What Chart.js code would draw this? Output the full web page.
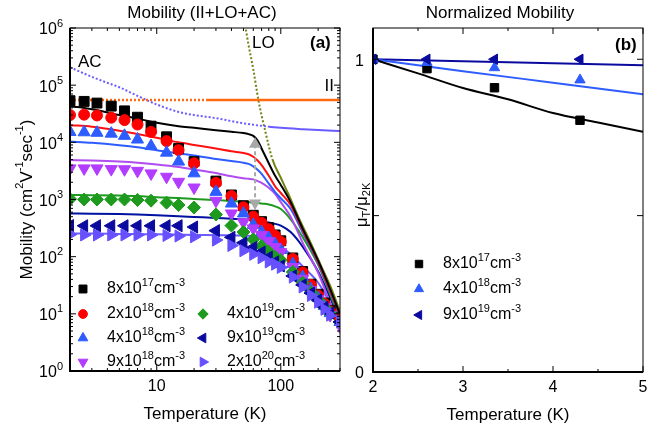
<!DOCTYPE html>
<html>
<head>
<meta charset="utf-8">
<title>Mobility</title>
<script src="https://cdn.jsdelivr.net/npm/chart.js@4.4.0/dist/chart.umd.min.js"></script>
<style>
  body { margin: 0; background: #fff; }
  #wrap { position: relative; width: 664px; height: 428px; }
  #left { position: absolute; left: 0; top: 0; }
  #right { position: absolute; left: 348px; top: 0; }
</style>
</head>
<body>
<div id="wrap">
  <canvas id="left" width="348" height="428"></canvas>
  <canvas id="right" width="316" height="428"></canvas>
</div>
<script>
const FONT = '"Liberation Sans", Arial, Helvetica, sans-serif';

// Measured temperatures (K)
const tempsMeas = [2, 2.6, 3.3, 4.3, 5.5, 7, 9, 12, 15, 20, 30, 40, 50, 60, 70, 80, 90, 100, 125, 150, 175, 200, 225, 250, 300];

// Measured mobility (cm2/Vs) for each doping
const mu8e17 = [53500, 52000, 48600, 43000, 35500, 27500, 19200, 12500, 7800, 4600, 2100, 1200, 780, 530, 410, 320, 240, 190, 95, 55, 33, 22, 15.5, 11.5, 8.5];
const mu2e18 = [30000, 30500, 29500, 27000, 24500, 20500, 15200, 10500, 7300, 4300, 1950, 1150, 730, 500, 390, 303, 230, 182, 91, 53, 32, 21, 15, 11, 8.1];
const mu4e18 = [15200, 15000, 14700, 14200, 13000, 11200, 8600, 6600, 4600, 2870, 1360, 850, 570, 360, 270, 212, 166, 131, 74, 44, 27, 19, 13.7, 10.3, 7.2];
const mu9e18 = [3500, 3500, 3500, 3400, 3380, 3170, 2860, 2500, 2040, 1620, 950, 570, 400, 312, 240, 187, 148, 120, 66, 41, 26, 18, 13, 9.5, 6.4];
const mu4e19 = [1016, 1000, 1000, 1000, 1000, 980, 955, 880, 800, 725, 545, 350, 270, 200, 153, 122, 99, 87, 54, 35, 24, 17.5, 13, 10, 7.2];
const mu9e19 = [350, 347, 347, 347, 347, 347, 347, 347, 347, 330, 285, 218, 175, 145, 120, 98, 81, 69, 46, 32, 23, 17.5, 13, 10.3, 7.2];
const mu2e20 = [245, 240, 240, 240, 240, 240, 240, 235, 230, 223, 195, 157, 127, 110, 96, 81, 74, 65, 44, 29.5, 21, 16, 12, 9.5, 7.2];

// Calculated (II+LO+AC) curves
const curveT = [2, 3, 5, 7, 10, 15, 20, 30, 40, 50, 55, 60, 65, 70, 80, 90, 100, 120, 150, 200, 250, 300];
const fit8e17 = [43000, 38000, 30000, 26000, 22000, 19200, 18000, 16300, 15300, 14500, 13900, 13000, 10800, 7800, 4300, 2600, 1800, 900, 310, 85, 27, 9.8];
const fit2e18 = [20000, 18800, 16000, 14000, 12000, 10000, 9000, 7800, 7000, 6500, 6200, 5600, 4800, 4000, 2600, 1700, 1300, 800, 290, 80, 25, 9.3];
const fit4e18 = [10300, 9800, 8900, 8200, 7300, 6400, 5900, 5100, 4700, 4400, 4200, 3800, 3300, 2800, 1900, 1350, 1050, 680, 265, 76, 24, 8.8];
const fit9e18 = [4900, 4800, 4600, 4400, 4100, 3700, 3350, 2900, 2550, 2350, 2300, 2250, 2100, 1950, 1600, 1250, 900, 500, 175, 52, 15, 4.6];
const fit4e19 = [1200, 1190, 1170, 1150, 1100, 1060, 1020, 980, 940, 910, 900, 880, 870, 850, 820, 760, 680, 450, 220, 72, 22, 8];
const fit9e19 = [570, 565, 555, 545, 530, 510, 495, 475, 460, 450, 440, 430, 420, 410, 395, 375, 350, 270, 150, 55, 19, 7.5];
const fit2e20 = [255, 253, 250, 248, 247, 243, 240, 238, 236, 235, 233, 228, 220, 210, 195, 175, 150, 110, 68, 35, 15, 6];

// Single-mechanism limits
const iiT = [2, 10, 25, 60, 300];
const iiMu = [55000, 55000, 55000, 55000, 55000];
const acT = [2, 3, 4, 5, 7, 10, 15, 20, 30, 50, 80, 100, 150, 200, 300];
const acMu = [205000, 140000, 110000, 92000, 65000, 46000, 34000, 30000, 26500, 21500, 18800, 18000, 17000, 16400, 15800];
const loT = [50, 52, 55, 60, 66, 75, 86, 100, 114, 145, 175, 210, 255, 300];
const loMu = [1.5e6, 1e6, 5e5, 1.9e5, 55000, 15500, 4900, 2400, 1300, 400, 170, 71, 28, 11];
const arrowT = [62, 62];
const arrowMu = [9300, 870];

// Right panel: normalized mobility
const normT = [2, 2.6, 3.35, 4.3];
const norm8e17 = [1, 0.97, 0.909, 0.805];
const norm4e18 = [1, 0.99, 0.973, 0.934];
const norm9e19 = [1, 1, 1, 1];
const normLineT8e17 = [2, 2.5, 3, 3.5, 4, 4.5, 5];
const normLine8e17 = [1, 0.955, 0.908, 0.872, 0.828, 0.798, 0.768];
const normLineT4e18 = [2, 3, 4, 5];
const normLine4e18 = [1, 0.962, 0.925, 0.888];
const normLineT9e19 = [2, 5];
const normLine9e19 = [1, 0.981];

// Tick labels
const leftXLabels = [10, 100];
const leftYExps = [0, 1, 2, 3, 4, 5, 6];
const rightXLabels = [2, 3, 4, 5];
const rightYLabels = [0, 1];

const dopings = [['8', '17'], ['2', '18'], ['4', '18'], ['9', '18'], ['4', '19'], ['9', '19'], ['2', '20']];

const pts = (xs, ys) => xs.map((x, i) => ({ x: x, y: ys[i] }));

// text with super/subscripts: parts = [[text, mode]] mode 1 sup, -1 sub
function richText(ctx, parts, x, y, size, align, weight) {
  const small = Math.round(size * 0.66);
  const w0 = weight || 'normal';
  let w = 0;
  parts.forEach(([t, m]) => {
    ctx.font = w0 + ' ' + (m ? small : size) + 'px ' + FONT;
    w += ctx.measureText(t).width;
  });
  let cx = align === 'center' ? x - w / 2 : align === 'right' ? x - w : x;
  ctx.textAlign = 'left';
  ctx.textBaseline = 'middle';
  parts.forEach(([t, m]) => {
    ctx.font = w0 + ' ' + (m ? small : size) + 'px ' + FONT;
    const dy = m === 1 ? -size * 0.4 : m === -1 ? size * 0.3 : 0;
    ctx.fillText(t, cx, y + dy);
    cx += ctx.measureText(t).width;
  });
}

function dopingParts(d) {
  return [[d[0] + 'x10', 0], [d[1], 1], ['cm', 0], ['-3', 1]];
}

function marker(ctx, style, color, r, rot, x, y) {
  ctx.fillStyle = color;
  ctx.strokeStyle = color;
  ctx.lineWidth = 1;
  Chart.helpers.drawPoint(ctx, { pointStyle: style, rotation: rot, radius: r, borderWidth: 1 }, x, y);
}

function line(ctx, x1, y1, x2, y2) {
  ctx.beginPath();
  ctx.moveTo(x1, y1);
  ctx.lineTo(x2, y2);
  ctx.stroke();
}

// draws frame, inward ticks, labels and annotation text
function framePlugin(opts) {
  return {
    id: 'frame',
    afterDraw(chart) {
      const ctx = chart.ctx, a = chart.chartArea;
      const sx = chart.scales.x, sy = chart.scales.y;
      ctx.save();
      ctx.strokeStyle = '#000';
      ctx.fillStyle = '#000';
      ctx.lineWidth = 1;
      ctx.strokeRect(a.left, a.top, a.right - a.left, a.bottom - a.top);
      ctx.lineWidth = 2;
      ctx.beginPath();
      ctx.moveTo(a.left, a.top);
      ctx.lineTo(a.left, a.bottom);
      ctx.lineTo(a.right, a.bottom);
      ctx.stroke();
      ctx.lineWidth = 1;
      opts.xTicks.forEach(t => {
        const p = sx.getPixelForValue(t.v), len = t.major ? 6 : 3;
        line(ctx, p, a.bottom, p, a.bottom - len);
        line(ctx, p, a.top, p, a.top + len);
      });
      opts.yTicks.forEach(t => {
        const p = sy.getPixelForValue(t.v), len = t.major ? 6 : 3;
        line(ctx, a.left, p, a.left + len, p);
        line(ctx, a.right, p, a.right - len, p);
      });
      opts.xLabels.forEach(v => {
        richText(ctx, [[String(v), 0]], sx.getPixelForValue(v), a.bottom + 16, 16, 'center');
      });
      opts.yLabels.forEach(l => {
        richText(ctx, l.parts, a.left - opts.yLabelGap, sy.getPixelForValue(l.v) + 2, 16, 'right');
      });
      opts.texts(ctx, a);
      ctx.restore();
    }
  };
}

function markerSet(label, data, color, style, r, rot, order) {
  return {
    label: label, data: pts(tempsMeas, data), showLine: false,
    pointStyle: style, pointRotation: rot, pointRadius: r,
    pointBackgroundColor: color, pointBorderColor: color, pointBorderWidth: 1,
    order: order
  };
}

// lines sit under the markers (higher order is drawn first)
function curveSet(xs, ys, color, width, dashUntil) {
  const ds = {
    data: pts(xs, ys), showLine: true, pointRadius: 0,
    borderColor: color, borderWidth: width, cubicInterpolationMode: 'monotone',
    order: 20
  };
  if (dashUntil) {
    ds.segment = { borderDash: c => (c.p1.parsed.x <= dashUntil ? [2, 2] : undefined) };
  }
  return ds;
}

// marker styles per doping: color, style, radius, rotation
const styles = [
  ['#000000', 'rect', 7, 0],
  ['#ff0000', 'circle', 5.5, 0],
  ['#2d5cff', 'triangle', 7, 0],
  ['#b23cff', 'triangle', 7, 180],
  ['#1e9a1e', 'rectRot', 6.5, 0],
  ['#0a0a9e', 'triangle', 7, -90],
  ['#6650ff', 'triangle', 7, 90]
];
const measured = [mu8e17, mu2e18, mu4e18, mu9e18, mu4e19, mu9e19, mu2e20];
const fits = [fit8e17, fit2e18, fit4e18, fit9e18, fit4e19, fit9e19, fit2e20];
const fitColors = ['#000000', '#ff1010', '#2d5cff', '#b04cf0', '#1e9a1e', '#0010a0', '#6a5cff'];

// ---------------- left panel ----------------
const leftSets = [];
fits.forEach((f, i) => leftSets.push(curveSet(curveT, f, fitColors[i], 2)));
leftSets.push(curveSet(iiT, iiMu, '#ff6a10', 2.5, 25));
leftSets.push(curveSet(acT, acMu, '#6a5cff', 2, 80));
leftSets.push(curveSet(loT, loMu, '#6e8412', 2, 86));
leftSets.push({
  data: pts(arrowT, arrowMu), showLine: true, borderColor: '#a8a8a8', borderWidth: 2,
  borderDash: [4, 3], pointStyle: 'triangle', pointRotation: [0, 180], pointRadius: 5,
  pointBackgroundColor: '#a8a8a8', pointBorderColor: '#a8a8a8', order: 15
});
measured.forEach((m, i) => {
  const s = styles[i];
  leftSets.push(markerSet(dopings[i].join('e'), m, s[0], s[1], s[2], s[3], 7 - i + 1));
});

const leftXTicks = [];
[1, 10, 100].forEach(d => {
  for (let s = 1; s <= 9; s++) {
    const v = s * d;
    if (v >= 2 && v <= 300) leftXTicks.push({ v: v, major: s === 1 });
  }
});
const leftYTicks = [];
for (let e = 0; e <= 6; e++) {
  for (let s = 1; s <= 9; s++) {
    const v = s * Math.pow(10, e);
    if (v <= 1e6) leftYTicks.push({ v: v, major: s === 1 });
  }
}

new Chart(document.getElementById('left'), {
  type: 'scatter',
  data: { datasets: leftSets },
  options: {
    responsive: false,
    animation: false,
    layout: { padding: { left: 70, right: 8, top: 28, bottom: 57 } },
    plugins: { legend: { display: false }, tooltip: { enabled: false } },
    scales: {
      x: { type: 'logarithmic', min: 2, max: 300, display: false },
      y: { type: 'logarithmic', min: 1, max: 1e6, display: false }
    }
  },
  plugins: [framePlugin({
    xTicks: leftXTicks,
    yTicks: leftYTicks,
    xLabels: leftXLabels,
    yLabels: leftYExps.map(e => ({ v: Math.pow(10, e), parts: [['10', 0], [String(e), 1]] })),
    yLabelGap: 7,
    texts(ctx, a) {
      const cx = (a.left + a.right) / 2;
      richText(ctx, [['Mobility (II+LO+AC)', 0]], cx - 3, 13, 17, 'center');
      richText(ctx, [['Temperature (K)', 0]], cx, 414, 17, 'center');
      ctx.save();
      ctx.translate(27, (a.top + a.bottom) / 2);
      ctx.rotate(-Math.PI / 2);
      richText(ctx, [['Mobility (cm', 0], ['2', 1], ['V', 0], ['-1', 1], ['sec', 0], ['-1', 1], [')', 0]], 0, 0, 17, 'center');
      ctx.restore();
      richText(ctx, [['AC', 0]], a.left + 8, 62, 17, 'left');
      richText(ctx, [['LO', 0]], a.left + 182, 43, 17, 'left');
      richText(ctx, [['(a)', 0]], a.right - 30, 43, 17, 'left', 'bold');
      richText(ctx, [['II', 0]], a.right - 6, 86, 17, 'right');
      // legend, two columns
      const rows = [a.top + 261, a.top + 286, a.top + 310, a.top + 334];
      const cols = [[a.left + 13, a.left + 37], [a.left + 133, a.left + 157]];
      dopings.forEach((d, i) => {
        const col = i < 4 ? 0 : 1;
        const row = i < 4 ? i : i - 3;
        const s = styles[i];
        marker(ctx, s[1], s[0], s[2] * 0.8, s[3], cols[col][0], rows[row]);
        ctx.fillStyle = '#000';
        richText(ctx, dopingParts(d), cols[col][1], rows[row], 16, 'left');
      });
    }
  })]
});

// ---------------- right panel ----------------
const rightSets = [
  curveSet(normLineT8e17, normLine8e17, '#000000', 2),
  curveSet(normLineT4e18, normLine4e18, '#2d5cff', 2),
  curveSet(normLineT9e19, normLine9e19, '#0a0a9e', 2)
];
[[norm9e19, 5], [norm4e18, 2], [norm8e17, 0]].forEach(([arr, si], k) => {
  const s = styles[si];
  rightSets.push({
    data: pts(normT, arr), showLine: false,
    pointStyle: s[1], pointRotation: s[3], pointRadius: s[2] * 0.85,
    pointBackgroundColor: s[0], pointBorderColor: s[0], pointBorderWidth: 1,
    order: k + 1
  });
});

new Chart(document.getElementById('right'), {
  type: 'scatter',
  data: { datasets: rightSets },
  options: {
    responsive: false,
    animation: false,
    layout: { padding: { left: 25, right: 21, top: 28, bottom: 56 } },
    plugins: { legend: { display: false }, tooltip: { enabled: false } },
    scales: {
      x: { type: 'linear', min: 2, max: 5, display: false },
      y: { type: 'linear', min: 0, max: 1.1, display: false }
    }
  },
  plugins: [framePlugin({
    xTicks: [2, 2.5, 3, 3.5, 4, 4.5, 5].map(v => ({ v: v, major: Number.isInteger(v) })),
    yTicks: [0, 0.5, 1].map(v => ({ v: v, major: true })),
    xLabels: rightXLabels,
    yLabels: rightYLabels.map(v => ({ v: v, parts: [[String(v), 0]] })),
    yLabelGap: 9,
    texts(ctx, a) {
      const cx = (a.left + a.right) / 2;
      richText(ctx, [['Normalized Mobility', 0]], cx - 8, 13, 17, 'center');
      richText(ctx, [['Temperature (K)', 0]], cx, 415, 17, 'center');
      ctx.save();
      ctx.translate(14, 205);
      ctx.rotate(-Math.PI / 2);
      richText(ctx, [['\u03bc', 0], ['T', -1], ['/\u03bc', 0], ['2K', -1]], 0, 0, 17, 'center');
      ctx.restore();
      richText(ctx, [['(b)', 0]], a.right - 28, 45, 17, 'left', 'bold');
      const rows = [264, 289, 315];
      [0, 2, 5].forEach((si, k) => {
        const s = styles[si];
        marker(ctx, s[1], s[0], s[2] * 0.75, s[3], a.left + 46, rows[k]);
        ctx.fillStyle = '#000';
        richText(ctx, dopingParts(dopings[si]), a.left + 70, rows[k], 16, 'left');
      });
    }
  })]
});
</script>
</body>
</html>
